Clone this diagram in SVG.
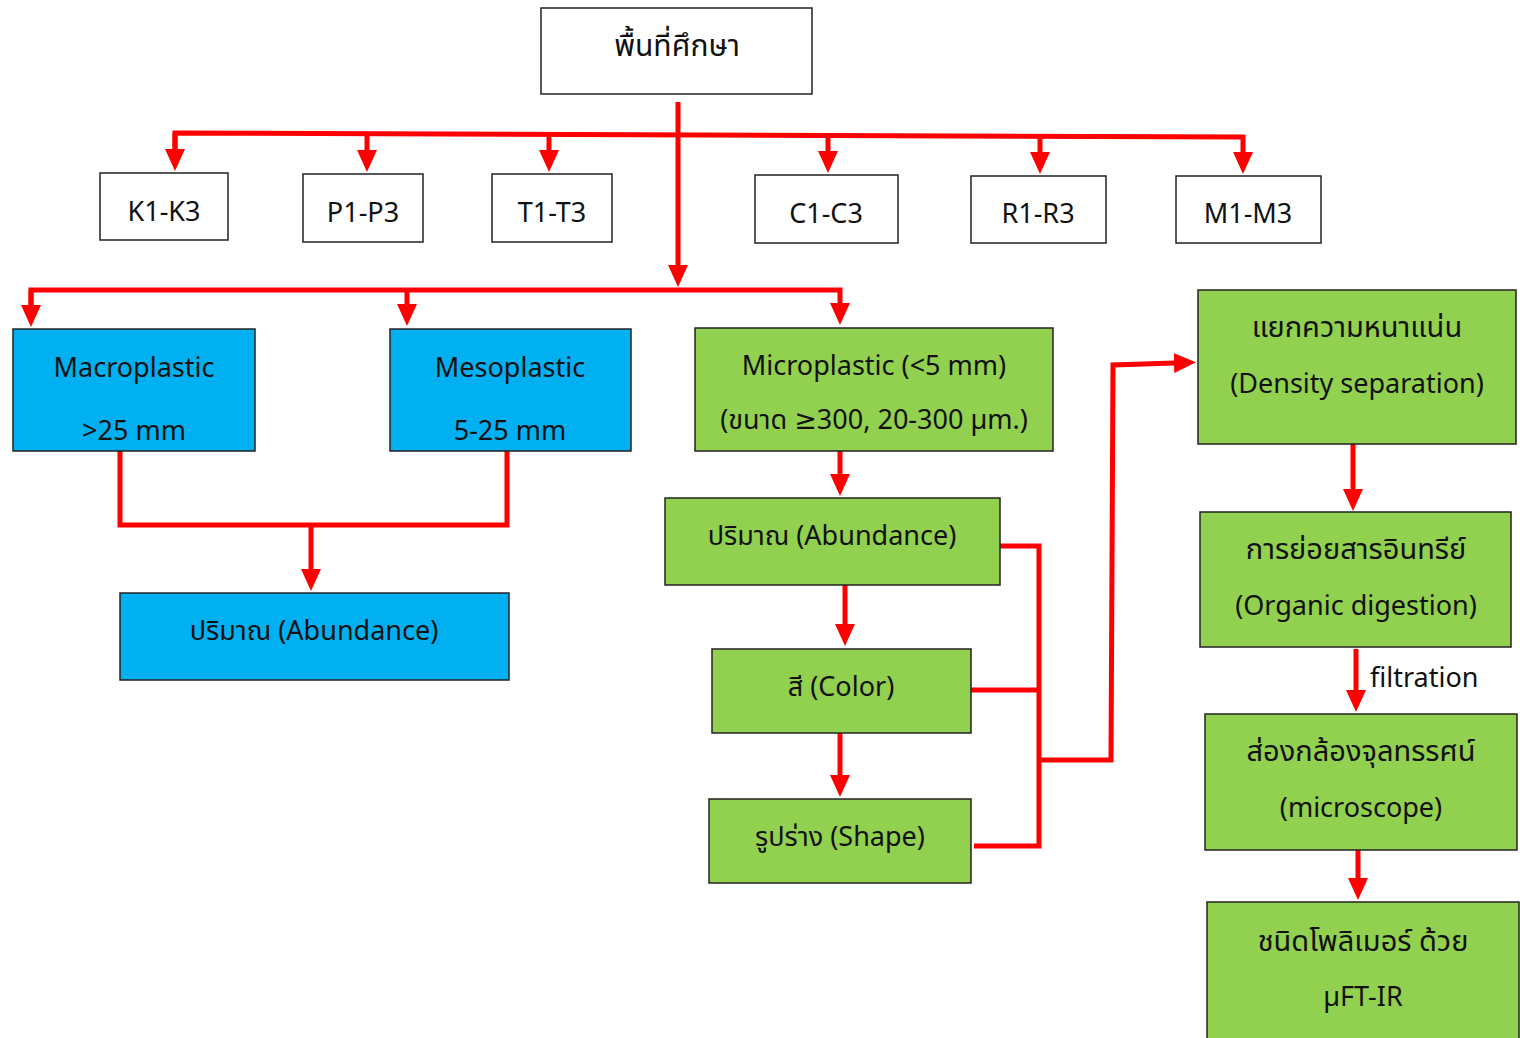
<svg xmlns="http://www.w3.org/2000/svg" width="1520" height="1038" viewBox="0 0 1520 1038">
<style>
.box{stroke:#222;stroke-width:1.5}
.w{fill:#fff}
.b{fill:#00B0F0}
.g{fill:#92D050}
text{font-family:"Noto Sans","Noto Sans Thai","DejaVu Sans",sans-serif;font-size:27px;fill:#111;text-anchor:middle;dominant-baseline:central}
.th{font-size:29px}
.c{fill:none;stroke:#FF0000;stroke-width:5}
</style>
<defs>
<marker id="ah" markerWidth="4.6" markerHeight="4" refX="0.2" refY="2" orient="auto" markerUnits="strokeWidth">
<path d="M0,0 L4.4,2 L0,4 z" fill="#FF0000"/>
</marker>
</defs>
<rect width="1520" height="1038" fill="#fff"/>
<g id="connectors">
<path class="c" d="M678,102 V266" marker-end="url(#ah)"/>
<path class="c" d="M175,150 V133 L1243,137 V153" marker-end="url(#ah)"/>
<path class="c" d="M175,133 V150" marker-end="url(#ah)"/>
<path class="c" d="M367,134 V151" marker-end="url(#ah)"/>
<path class="c" d="M549,134 V151" marker-end="url(#ah)"/>
<path class="c" d="M828,135 V152" marker-end="url(#ah)"/>
<path class="c" d="M1040,136 V153" marker-end="url(#ah)"/>
<path class="c" d="M31,306 V290 H840 V304" marker-end="url(#ah)"/>
<path class="c" d="M31,290 V306" marker-end="url(#ah)"/>
<path class="c" d="M407,290 V305" marker-end="url(#ah)"/>
<path class="c" d="M120,451 V525 H507 V451"/>
<path class="c" d="M311,525 V570" marker-end="url(#ah)"/>
<path class="c" d="M840,451 V475" marker-end="url(#ah)"/>
<path class="c" d="M845,585 V625" marker-end="url(#ah)"/>
<path class="c" d="M840,733 V776" marker-end="url(#ah)"/>
<path class="c" d="M1000,546 H1039 V846 H974"/>
<path class="c" d="M971,690 H1040"/>
<path class="c" d="M1041,760 H1111 L1113,365 L1175,363" marker-end="url(#ah)"/>
<path class="c" d="M1353,444 V490" marker-end="url(#ah)"/>
<path class="c" d="M1356,649 V691" marker-end="url(#ah)"/>
<path class="c" d="M1358,848 V879" marker-end="url(#ah)"/>
</g>
<g id="n-top"><rect class="box w" x="541" y="8" width="271" height="86"/><text class="th" x="677" y="44" style="font-size:30px">พื้นที่ศึกษา</text></g>
<g id="n-k"><rect class="box w" x="100" y="173" width="128" height="67"/><text x="164" y="210">K1-K3</text></g>
<g id="n-p"><rect class="box w" x="303" y="174" width="120" height="68"/><text x="363" y="211">P1-P3</text></g>
<g id="n-t"><rect class="box w" x="492" y="174" width="120" height="68"/><text x="552" y="211">T1-T3</text></g>
<g id="n-c"><rect class="box w" x="755" y="175" width="143" height="68"/><text x="826" y="212">C1-C3</text></g>
<g id="n-r"><rect class="box w" x="971" y="176" width="135" height="67"/><text x="1038" y="212">R1-R3</text></g>
<g id="n-m"><rect class="box w" x="1176" y="176" width="145" height="67"/><text x="1248" y="212">M1-M3</text></g>
<g id="n-macro"><rect class="box b" x="13" y="329" width="242" height="122"/><text x="134" y="366">Macroplastic</text><text x="134" y="429">&gt;25 mm</text></g>
<g id="n-meso"><rect class="box b" x="390" y="329" width="241" height="122"/><text x="510" y="366">Mesoplastic</text><text x="510" y="429">5-25 mm</text></g>
<g id="n-micro"><rect class="box g" x="695" y="328" width="358" height="123"/><text x="874" y="364">Microplastic (&lt;5 mm)</text><text x="874" y="418">(ขนาด ≥300, 20-300 µm.)</text></g>
<g id="n-abund-blue"><rect class="box b" x="120" y="593" width="389" height="87"/><text x="314" y="629">ปริมาณ (Abundance)</text></g>
<g id="n-abund-green"><rect class="box g" x="665" y="498" width="335" height="87"/><text x="832" y="534">ปริมาณ (Abundance)</text></g>
<g id="n-color"><rect class="box g" x="712" y="649" width="259" height="84"/><text x="841" y="685">สี (Color)</text></g>
<g id="n-shape"><rect class="box g" x="709" y="799" width="262" height="84"/><text x="840" y="835">รูปร่าง (Shape)</text></g>
<g id="n-density"><rect class="box g" x="1198" y="290" width="318" height="154"/><text class="th" x="1357" y="325">แยกความหนาแน่น</text><text x="1357" y="382">(Density separation)</text></g>
<g id="n-organic"><rect class="box g" x="1200" y="512" width="311" height="135"/><text class="th" x="1356" y="547">การย่อยสารอินทรีย์</text><text x="1356" y="604">(Organic digestion)</text></g>
<g id="n-micro-scope"><rect class="box g" x="1205" y="714" width="312" height="136"/><text class="th" x="1361" y="749">ส่องกล้องจุลทรรศน์</text><text x="1361" y="806">(microscope)</text></g>
<g id="n-polymer"><rect class="box g" x="1207" y="902" width="312" height="140"/><text class="th" x="1363" y="939">ชนิดโพลิเมอร์ ด้วย</text><text x="1363" y="995">µFT-IR</text></g>
<text x="1370" y="676" style="text-anchor:start">filtration</text>
</svg>
